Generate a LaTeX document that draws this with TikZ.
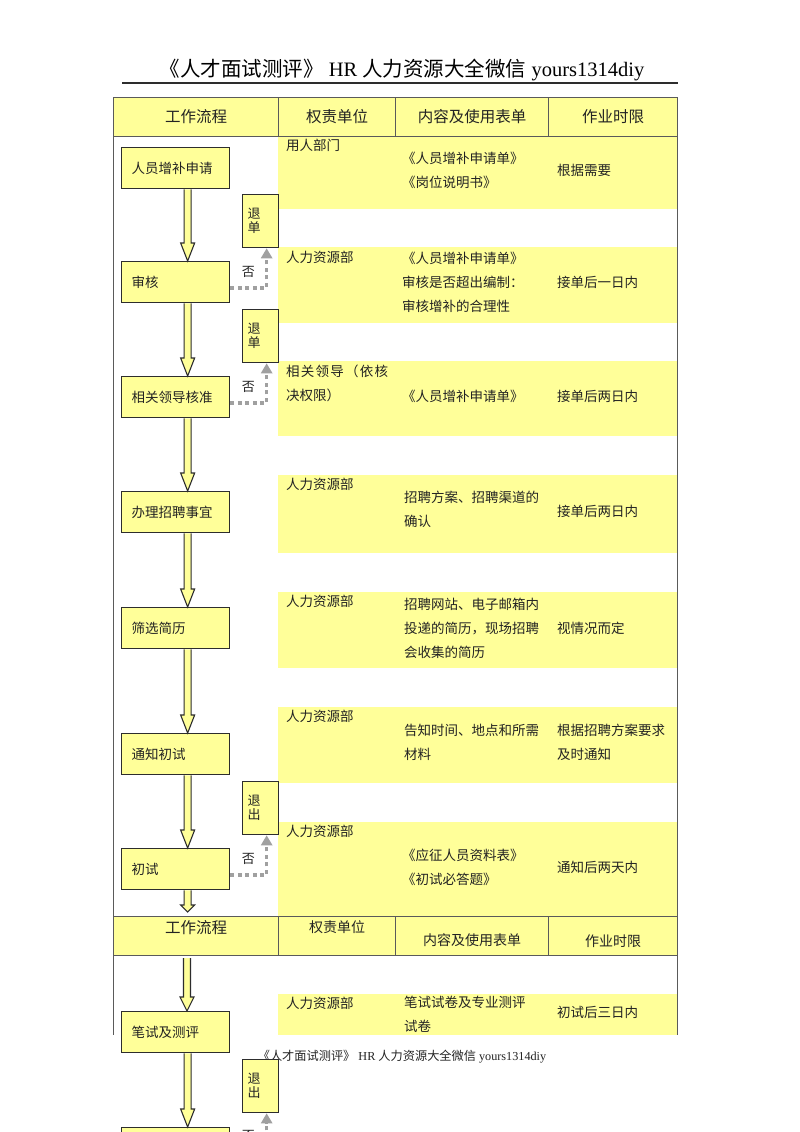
\documentclass[tikz,border=0pt]{standalone}
\usepackage{fontspec}
\setmainfont{Liberation Serif}
\newfontfamily\cjk{Noto Sans CJK SC}
\usetikzlibrary{calc,arrows.meta}
\definecolor{yel}{RGB}{255,255,153}
\definecolor{edge}{RGB}{45,45,45}
\definecolor{tline}{RGB}{90,90,90}
\definecolor{dotc}{RGB}{160,160,160}
\definecolor{txt}{RGB}{35,35,35}
\newcommand\blk[3]{%
  \draw[blockar] let \p1=($(#1)+(12,0)$), \p2=($(#2)+(12,0)$) in
  (\x1-3.5pt,\y1) -- (\x1-3.5pt,\y2+#3) -- (\x1-7pt,\y2+#3) -- (\x1,\y2)
  -- (\x1+7pt,\y2+#3) -- (\x1+3.5pt,\y2+#3) -- (\x1+3.5pt,\y1);}
\begin{document}
\begin{tikzpicture}[x=1pt,y=-1pt,
  flow/.style={draw=edge, fill=yel, line width=1.3pt, anchor=north west,
    minimum height=41pt, text width=88pt, inner xsep=10pt, inner ysep=0pt,
    align=left, font=\cjk\fontsize{13.5}{16}\selectfont, text=txt},
  rej/.style={draw=edge, fill=yel, line width=1.3pt, anchor=north west,
    minimum height=53pt, text width=26pt, inner xsep=5pt, inner ysep=0pt,
    align=left, font=\cjk\fontsize{13}{14}\selectfont, text=txt},
  band/.style={fill=yel},
  hdr/.style={draw=tline, fill=yel, line width=1pt, anchor=north west,
    inner sep=0pt, minimum height=39pt, text=txt},
  cell/.style={anchor=west, align=left, inner sep=0pt,
    font=\cjk\fontsize{13.5}{24}\selectfont, text=txt},
  nolab/.style={font=\cjk\fontsize{13}{13}\selectfont, text=txt, inner sep=0pt},
  rejarr/.style={draw=dotc, line width=3.5pt, dash pattern=on 4pt off 3.5pt,
    -{Triangle[length=10pt,width=11pt]}},
  blockar/.style={draw=edge, fill=yel, line width=1.1pt, line join=miter},
  tborder/.style={draw=tline, line width=1pt}
]
\useasboundingbox (0,0) rectangle (800,1132);
\clip (0,0) rectangle (800,1132);
\fill[white] (0,0) rectangle (800,1132);

% title
\node[inner sep=0pt, font=\fontsize{20.5}{22}\selectfont] (title) at (402,70)
  {{\cjk 《人才面试测评》} HR {\cjk 人力资源大全微信} yours1314diy};
\draw[line width=1.3pt, draw=edge] (122,83) -- (678,83);

% bands
\fill[band] (278,136) rectangle (677,209);
\fill[band] (278,247) rectangle (677,323);
\fill[band] (278,361) rectangle (677,436);
\fill[band] (278,475) rectangle (677,553);
\fill[band] (278,592) rectangle (677,668);
\fill[band] (278,707) rectangle (677,783);
\fill[band] (278,822) rectangle (677,916);
\fill[band] (278,994) rectangle (677,1035);

% outer borders
\draw[tborder] (113,97) -- (113,1035);
\draw[tborder] (677,97) -- (677,1035);

% header row 1
\node[hdr, minimum width=165pt, font=\cjk\fontsize{15.5}{16}\selectfont] (hA) at (113,97) {工作流程};
\node[hdr, minimum width=117pt, font=\cjk\fontsize{15.5}{16}\selectfont] (hB) at (278,97) {权责单位};
\node[hdr, minimum width=153pt, font=\cjk\fontsize{15.5}{16}\selectfont] (hC) at (395,97) {内容及使用表单};
\node[hdr, minimum width=129pt, font=\cjk\fontsize{15.5}{16}\selectfont] (hD) at (548,97) {作业时限};

% header row 2
\node[hdr, minimum width=165pt] (gA) at (113,916) {};
\node[hdr, minimum width=117pt] (gB) at (278,916) {};
\node[hdr, minimum width=153pt] (gC) at (395,916) {};
\node[hdr, minimum width=129pt] (gD) at (548,916) {};
\node[cell, anchor=center, font=\cjk\fontsize{15.5}{16}\selectfont] (gAt) at (196,928) {工作流程};
\node[cell, anchor=center, font=\cjk\fontsize{14}{16}\selectfont] (gBt) at (337,927) {权责单位};
\node[cell, anchor=center, font=\cjk\fontsize{14}{16}\selectfont] (gCt) at (472,940) {内容及使用表单};
\node[cell, anchor=center, font=\cjk\fontsize{14}{16}\selectfont] (gDt) at (613,941) {作业时限};

% column 2 texts
\node[cell] (b1) at (286,145) {用人部门};
\node[cell] (b2) at (286,257) {人力资源部};
\node[cell] (b3) at (286,383) {\makebox[102pt][s]{相\hfill 关\hfill 领\hfill 导\hfill （\hfill 依\hfill 核}\\决权限）};
\node[cell] (b4) at (286,484) {人力资源部};
\node[cell] (b5) at (286,601) {人力资源部};
\node[cell] (b6) at (286,716) {人力资源部};
\node[cell] (b7) at (286,831) {人力资源部};
\node[cell] (b8) at (286,1003) {人力资源部};

% column 3 texts
\node[cell] (c1) at (402,170) {《人员增补申请单》\\《岗位说明书》};
\node[cell] (c2) at (402,282) {《人员增补申请单》\\审核是否超出编制：\\审核增补的合理性};
\node[cell] (c3) at (402,396) {《人员增补申请单》};
\node[cell] (c4) at (404,509.5) {招聘方案、招聘渠道的\\确认};
\node[cell] (c5) at (404,628) {招聘网站、电子邮箱内\\投递的简历，现场招聘\\会收集的简历};
\node[cell] (c6) at (404,742) {告知时间、地点和所需\\材料};
\node[cell] (c7) at (402,867) {《应征人员资料表》\\《初试必答题》};
\node[cell] (c8) at (404,1014.5) {笔试试卷及专业测评\\试卷};

% column 4 texts
\node[cell] (d1) at (557,170) {根据需要};
\node[cell] (d2) at (557,282) {接单后一日内};
\node[cell] (d3) at (557,396) {接单后两日内};
\node[cell] (d4) at (557,511) {接单后两日内};
\node[cell] (d5) at (557,628) {视情况而定};
\node[cell] (d6) at (557,742) {根据招聘方案要求\\及时通知};
\node[cell] (d7) at (557,867) {通知后两天内};
\node[cell] (d8) at (557,1012) {初试后三日内};

% footer
\node[inner sep=0pt, font=\fontsize{12.2}{13}\selectfont, text=txt] (foot) at (402,1057)
  {{\cjk 《人才面试测评》} HR {\cjk 人力资源大全微信} yours1314diy};

% flow boxes
\node[flow] (ap) at (121,147) {人员增补申请};
\node[flow] (sh) at (121,261) {审核};
\node[flow] (hz) at (121,376) {相关领导核准};
\node[flow] (bl) at (121,491) {办理招聘事宜};
\node[flow] (sx) at (121,607) {筛选简历};
\node[flow] (tz) at (121,733) {通知初试};
\node[flow] (cs) at (121,848) {初试};
\node[flow] (bs) at (121,1011) {笔试及测评};
\node[flow] (last) at (121,1127) {};

% reject boxes
\node[rej] (t1) at (242,194) {退\\单};
\node[rej] (t2) at (242,309) {退\\单};
\node[rej] (t3) at (242,781) {退\\出};
\node[rej] (t4) at (242,1059) {退\\出};

% block arrows
\coordinate (h2top) at (175,912);
\coordinate (p2start) at (175,958);
\blk{ap.south}{sh.north}{18pt}
\blk{sh.south}{hz.north}{18pt}
\blk{hz.south}{bl.north}{18pt}
\blk{bl.south}{sx.north}{18pt}
\blk{sx.south}{tz.north}{18pt}
\blk{tz.south}{cs.north}{18pt}
\blk{cs.south}{h2top}{7pt}
\blk{p2start}{bs.north}{14pt}
\blk{bs.south}{last.north}{18pt}

% reject connectors
\draw[rejarr] ($(sh.north east)+(0,27)$) -| ($(t1.south)+(6,0)$);
\draw[rejarr] ($(hz.north east)+(0,27)$) -| ($(t2.south)+(6,0)$);
\draw[rejarr] ($(cs.north east)+(0,27)$) -| ($(t3.south)+(6,0)$);
\draw[rejarr] ($(last.north east)+(0,27)$) -| ($(t4.south)+(6,0)$);
\node[nolab] (n1) at ($(sh.north east)+(18,11)$) {否};
\node[nolab] (n2) at ($(hz.north east)+(18,11)$) {否};
\node[nolab] (n3) at ($(cs.north east)+(18,11)$) {否};
\node[nolab] (n4) at ($(last.north east)+(18,9)$) {否};
\end{tikzpicture}
\end{document}
